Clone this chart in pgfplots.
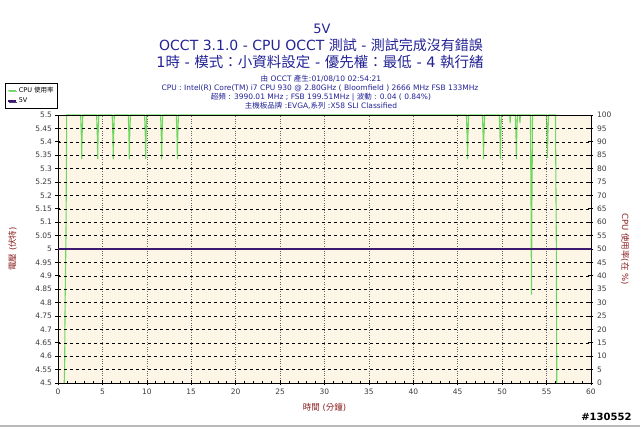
\documentclass[border=0pt]{standalone}
\usepackage{pgfplots}
\pgfplotsset{compat=1.18}
\usepackage{fontspec}
\setmainfont{DejaVu Sans}
\newfontfamily\cjk{Noto Sans CJK TC}
\usetikzlibrary{shadows}
\definecolor{cpugreen}{RGB}{110,215,95}
\definecolor{voltpurple}{RGB}{60,25,110}
\definecolor{bgcream}{RGB}{253,246,231}
\definecolor{titleblue}{RGB}{35,35,150}
\definecolor{labelred}{RGB}{140,30,30}
\definecolor{tickgray}{RGB}{60,60,60}

\pgfplotsset{
  occt/.style={
    at={(58pt,44pt)}, anchor=south west,
    width=533pt, height=268pt, scale only axis,
    xmin=0, xmax=60,
    tick align=center, major tick length=5pt, minor tick length=3pt,
    tick style={black, line width=0.6pt},
    ticklabel style={font=\fontsize{7.5}{9}\selectfont, text=tickgray},
    /pgf/number format/assume math mode=true,
  },
}

\begin{document}
\begin{tikzpicture}
\useasboundingbox (0,0) rectangle (640pt,427pt);

% CPU usage, right axis, with background and grid
\begin{axis}[occt,
  axis on top,
  ymin=0, ymax=100,
  ytick={0,5,...,100},
  yticklabel pos=right, ytick pos=right,
  xtick={0,5,...,60}, minor x tick num=4,
  xtick pos=bottom,
  axis background/.style={fill=bgcream},
  axis line style={black, line width=0.8pt},
  xmajorgrids, ymajorgrids,
  major x grid style={gray!80!black, dotted, line width=0.6pt},
  major y grid style={black, dashed, line width=0.5pt},
  ylabel={CPU {\cjk 使用率}({\cjk 在} \%)},
  ylabel style={at={(axis description cs:1.064,0.5)}, anchor=center, rotate=180,
    font=\fontsize{8.5}{10}\selectfont, text=labelred},
  xlabel={{\cjk 時間} ({\cjk 分鐘})},
  xlabel style={at={(axis description cs:0.5,-0.062)}, anchor=north,
    font=\fontsize{8.5}{10}\selectfont, text=labelred},
]
\addplot[cpugreen, line width=1.1pt] coordinates {
(0.7,0) (0.75,6) (0.8,30) (0.9,55) (0.98,100)
(2.55,100)(2.63,92)(2.67,83.5)(2.71,92)(2.79,100)
(4.35,100)(4.43,92)(4.47,83.5)(4.51,92)(4.59,100)
(6.10,100)(6.18,92)(6.22,83.5)(6.26,92)(6.34,100)
(7.91,100)(7.99,92)(8.03,83.5)(8.07,92)(8.15,100)
(9.75,100)(9.83,92)(9.87,83.5)(9.91,92)(9.99,100)
(11.55,100)(11.63,92)(11.67,83.5)(11.71,92)(11.79,100)
(13.32,100)(13.40,92)(13.44,83.5)(13.48,92)(13.56,100)
(45.98,100)(46.06,92)(46.1,83.5)(46.14,92)(46.22,100)
(47.78,100)(47.86,92)(47.9,83.5)(47.94,92)(48.02,100)
(49.68,100)(49.76,92)(49.8,83.5)(49.84,92)(49.92,100)
(50.85,100)(50.9,97)(50.95,100)
(51.48,100)(51.56,92)(51.6,83.5)(51.64,92)(51.72,100)
(51.95,100)(52.0,97)(52.05,100)
(53.18,100)(53.25,67)(53.3,33)(53.35,67)(53.42,100)
(54.98,100)(55.06,92)(55.1,84)(55.14,92)(55.22,100)
(56.0,100)(56.1,50)(56.15,0)
};
\end{axis}

% voltage, left axis
\begin{axis}[occt,
  ymin=4.5, ymax=5.5,
  ytick={4.5,4.55,4.6,4.65,4.7,4.75,4.8,4.85,4.9,4.95,5,5.05,5.1,5.15,5.2,5.25,5.3,5.35,5.4,5.45,5.5},
  yticklabels={4.5,4.55,4.6,4.65,4.7,4.75,4.8,4.85,4.9,4.95,5,5.05,5.1,5.15,5.2,5.25,5.3,5.35,5.4,5.45,5.5},
  hide x axis,
  axis y line*=left,
  axis line style={black, line width=0.8pt},
  ylabel={{\cjk 電壓} ({\cjk 伏特})},
  ylabel style={at={(axis description cs:-0.085,0.5)}, anchor=center,
    font=\fontsize{8.5}{10}\selectfont, text=labelred},
  legend style={at={(axis description cs:-0.0995,1.118)}, anchor=north west,
    font=\fontsize{6.5}{7.5}\selectfont, draw=black, line width=0.5pt, fill=white,
    inner sep=1.5pt, row sep=0pt,
    drop shadow={shadow xshift=1.3pt, shadow yshift=-1.3pt, fill=black, opacity=0.85}},
  legend cell align=left,
  legend image code/.code={\draw[#1] (0cm,0cm) -- (0.3cm,0cm);},
]
\addlegendimage{cpugreen, line width=1pt}
\addlegendentry{CPU {\cjk 使用率}}
\addplot[voltpurple, line width=1.6pt] coordinates {(0,5) (60,5)};
\addlegendentry{5V}
\end{axis}

% header
\node[text=titleblue, font=\fontsize{13}{15}\selectfont] at (322pt,398pt) {5V};
\node[text=titleblue, font=\fontsize{14}{16}\selectfont] at (321pt,382pt)
  {OCCT 3.1.0 - CPU OCCT {\cjk 測試} - {\cjk 測試完成沒有錯誤}};
\node[text=titleblue, font=\fontsize{14.5}{16}\selectfont] at (320pt,365pt)
  {1{\cjk 時} - {\cjk 模式：小資料設定} - {\cjk 優先權：最低} - 4 {\cjk 執行緒}};
\node[text=titleblue, font=\fontsize{7.5}{8}\selectfont] at (321pt,348pt)
  {{\cjk 由} OCCT {\cjk 產生}:01/08/10 02:54:21};
\node[text=titleblue, font=\fontsize{7.5}{8}\selectfont] at (320pt,339pt)
  {CPU : Intel(R) Core(TM) i7 CPU 930 @ 2.80GHz ( Bloomfield ) 2666 MHz FSB 133MHz};
\node[text=titleblue, font=\fontsize{7.5}{8}\selectfont] at (321pt,330pt)
  {{\cjk 超頻} : 3990.01 MHz ; FSB 199.51MHz | {\cjk 波動} : 0.04 ( 0.84\%)};
\node[text=titleblue, font=\fontsize{7.5}{8}\selectfont] at (321pt,321pt)
  {{\cjk 主機板品牌} :EVGA,{\cjk 系列} :X58 SLI Classified};

% watermark and bottom rule
\node[font=\bfseries\fontsize{10}{12}\selectfont, anchor=east] at (635pt,10pt) {\#130552};
\draw[gray!55, line width=1.5pt] (0,1pt) -- (640pt,1pt);
\end{tikzpicture}
\end{document}
